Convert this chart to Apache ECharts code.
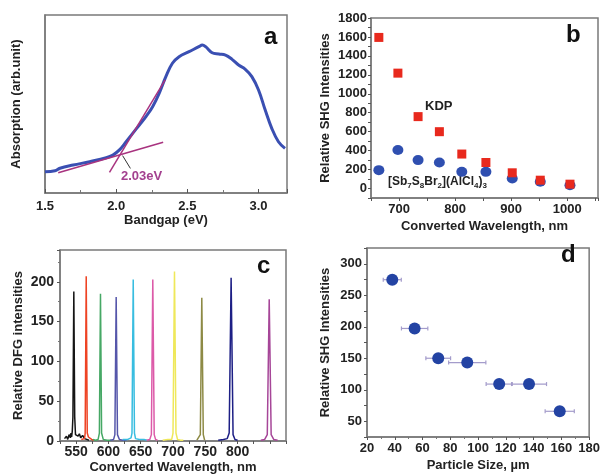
<!DOCTYPE html>
<html>
<head>
<meta charset="utf-8">
<script src="https://cdn.jsdelivr.net/npm/echarts@6/dist/echarts.min.js"></script>
<style>
html,body{margin:0;padding:0;background:#fff;}
#chart{width:603px;height:476px;}
</style>
</head>
<body>
<div id="chart"></div>
<script>
// ---------- Panel a: absorption spectrum ----------
const aX = [1.50,1.57,1.605,1.698,1.814,1.930,1.977,2.023,2.070,2.116,2.163,2.209,2.256,2.302,2.349,2.395,2.442,2.512,2.581,2.605,2.628,2.674,2.721,2.768,2.814,2.860,2.907,2.953,3.000,3.047,3.093,3.140,3.186];
const aY = [12.0,12.5,13.9,15.7,17.6,19.8,21.3,24.2,28.8,33.5,38.2,42.9,48.5,56.0,65.4,72.9,76.6,79.4,82.2,83.1,82.2,78.8,78.1,77.5,75.1,71.9,69.5,65.4,57.9,46.6,36.3,28.8,25.1];
const tan1X = [1.593, 2.330];
const tan1Y = [11.4, 28.5];
const tan2X = [1.953, 2.344];
const tan2Y = [11.6, 63.5];
const arrowX = [2.045, 2.100];
const arrowY = [21.0, 13.8];
const aTicks = ['1.5','2.0','2.5','3.0'];

// ---------- Panel b: SHG vs wavelength ----------
const bX = [664, 698, 734, 772, 812, 855, 902, 952, 1005];
const bKDP = [1595, 1218, 759, 600, 364, 275, 166, 88, 46];
const bSb = [194, 406, 300, 275, 176, 176, 106, 71, 35];

// ---------- Panel c: DFG peaks ----------
const cBlack = [[532,3],[535,6],[537,2],[539,8],[541,4],[542,10],[543,5],[544,12],[545,30],[546.4,188],[547.8,30],[549,8],[551,10],[553,6],[555,9],[557,4],[560,7],[563,3],[566,2],[570,1]];
const cRed = [[558,2],[561,4],[563,3],[564,10],[565.6,207],[567.2,10],[569,5],[571,3],[574,2],[578,1]];
const cGreen = [[576,2],[580,1],[584,2],[586,10],[587.7,185],[589.4,10],[592,2],[598,1],[604,1]];
const cBlue = [[603,1],[608,2],[610,8],[612,181],[614,8],[617,2],[622,1],[628,1]];
const cCyan = [[622,2],[630,2],[635,4],[636.5,10],[638.4,203],[640.3,10],[642,3],[648,2],[655,2],[660,1]];
const cMagenta = [[659,1],[664,2],[666.5,8],[668.7,203],[670.9,8],[673,2],[676,1]];
const cYellow = [[684,1],[692,2],[698,2],[700,10],[702.3,213],[704.6,10],[707,2],[712,1],[716,1]];
const cOlive = [[737,1],[740,2],[742.3,8],[744.6,180],[746.9,8],[749,1]];
const cNavy = [[770,1],[778,2],[784,3],[787,10],[790,205],[793,8],[796,2],[800,1]];
const cPurple = [[836,1],[842,2],[846,8],[849,178],[852,8],[856,2],[862,1]];
const cXTicks = [550, 600, 650, 700, 750, 800];
const cYTicks = [0, 50, 100, 150, 200];

// ---------- Panel d: SHG vs particle size ----------
const dX = [38.2, 54.3, 71.3, 92.2, 115.2, 136.7, 158.8];
const dY = [274.7, 197.3, 150.0, 143.1, 109.0, 109.0, 65.8];
const dXErr = [6.5, 9.5, 8.9, 13.4, 9.4, 12.6, 10.5];
const dYErr = [3, 4, 4, 4, 4, 6, 4];

const FONT = "'Liberation Sans', Arial, sans-serif";
const TXT = '#222';
const AXC = '#7a7a7a';

function axisCommon(extra) {
  return Object.assign({
    axisLine: {show: true, onZero: false, lineStyle: {color: AXC, width: 1.5}},
    axisTick: {show: true, inside: false, length: 3, lineStyle: {color: '#555', width: 1}},
    axisLabel: {color: TXT, fontFamily: FONT, fontWeight: 'bold', fontSize: 13},
    splitLine: {show: false},
    nameLocation: 'middle',
    nameTextStyle: {color: TXT, fontFamily: FONT, fontWeight: 'bold', fontSize: 13}
  }, extra);
}

const chart = echarts.init(document.getElementById('chart'), null, {renderer: 'canvas'});

const gridStyle = {show: true, borderColor: AXC, borderWidth: 1.5, backgroundColor: 'transparent', containLabel: false};

const option = {
  animation: false,
  backgroundColor: '#fff',
  grid: [
    Object.assign({left: 45, top: 15, width: 242, height: 178}, gridStyle),
    Object.assign({left: 371, top: 18, width: 227, height: 180}, gridStyle),
    Object.assign({left: 60, top: 250, width: 226, height: 191}, gridStyle),
    Object.assign({left: 367, top: 248, width: 225, height: 189}, gridStyle)
  ],
  xAxis: [
    axisCommon({gridIndex: 0, type: 'value', min: 1.5, max: 3.2, interval: 0.5,
      name: 'Bandgap (eV)', nameGap: 20,
      axisTick: {show: true, inside: true, length: 4, lineStyle: {color: '#555'}},
      minorTick: {show: true, splitNumber: 2, length: 3, lineStyle: {color: '#777'}},
      axisLabel: {color: TXT, fontFamily: FONT, fontWeight: 'bold', fontSize: 13, margin: 7,
        formatter: v => { const s = v.toFixed(1); return aTicks.indexOf(s) >= 0 ? s : ''; }}}),
    axisCommon({gridIndex: 1, type: 'value', min: 650, max: 1055, interval: 50,
      name: 'Converted Wavelength, nm', nameGap: 22,
      axisLabel: {color: TXT, fontFamily: FONT, fontWeight: 'bold', fontSize: 13, margin: 5,
        formatter: v => (v % 100 === 0 ? String(v) : '')}}),
    axisCommon({gridIndex: 2, type: 'value', min: 525, max: 875, interval: 25,
      name: 'Converted Wavelength, nm', nameGap: 20,
      axisLabel: {color: TXT, fontFamily: FONT, fontWeight: 'bold', fontSize: 14, margin: 4,
        formatter: v => (cXTicks.indexOf(v) >= 0 ? String(v) : '')}}),
    axisCommon({gridIndex: 3, type: 'value', min: 20, max: 180, interval: 20,
      name: 'Particle Size, \u00b5m', nameGap: 22,
      minorTick: {show: true, splitNumber: 2, length: 2, lineStyle: {color: '#777'}},
      axisLabel: {color: TXT, fontFamily: FONT, fontWeight: 'bold', fontSize: 13, margin: 5}})
  ],
  yAxis: [
    axisCommon({gridIndex: 0, type: 'value', min: 0, max: 100,
      name: 'Absorption (arb.unit)', nameGap: 22,
      axisTick: {show: false}, axisLabel: {show: false}}),
    axisCommon({gridIndex: 1, type: 'value', min: -100, max: 1800, interval: 100,
      name: 'Relative SHG Intensities', nameGap: 39,
      axisLabel: {color: TXT, fontFamily: FONT, fontWeight: 'bold', fontSize: 13, margin: 4,
        formatter: v => (v >= 0 && v % 200 === 0 ? String(v) : '')}}),
    axisCommon({gridIndex: 2, type: 'value', min: 0, max: 240, interval: 50,
      name: 'Relative DFG intensities', nameGap: 35,
      minorTick: {show: true, splitNumber: 2, length: 2, lineStyle: {color: '#777'}},
      axisLabel: {color: TXT, fontFamily: FONT, fontWeight: 'bold', fontSize: 14, margin: 6,
        formatter: v => (cYTicks.indexOf(v) >= 0 ? String(v) : '')}}),
    axisCommon({gridIndex: 3, type: 'value', min: 25, max: 325, interval: 25,
      name: 'Relative SHG Intensities', nameGap: 35,
      axisLabel: {color: TXT, fontFamily: FONT, fontWeight: 'bold', fontSize: 13, margin: 5,
        formatter: v => (v % 50 === 0 ? String(v) : '')}})
  ],
  series: [
    // panel a
    {type: 'line', xAxisIndex: 0, yAxisIndex: 0, data: aX.map((x, i) => [x, aY[i]]),
      smooth: 0.4, symbol: 'none', lineStyle: {color: '#3a4fb2', width: 3}},
    {type: 'line', xAxisIndex: 0, yAxisIndex: 0, data: tan1X.map((x, i) => [x, tan1Y[i]]),
      symbol: 'none', lineStyle: {color: '#a8337f', width: 1.5}},
    {type: 'line', xAxisIndex: 0, yAxisIndex: 0, data: tan2X.map((x, i) => [x, tan2Y[i]]),
      symbol: 'none', lineStyle: {color: '#a8337f', width: 1.5}},
    {type: 'line', xAxisIndex: 0, yAxisIndex: 0, data: arrowX.map((x, i) => [x, arrowY[i]]),
      symbol: 'none', lineStyle: {color: '#333', width: 1}},
    // panel b
    {type: 'scatter', xAxisIndex: 1, yAxisIndex: 1, data: bX.map((x, i) => [x, bSb[i]]),
      symbol: 'circle', symbolSize: [11, 10], itemStyle: {color: '#2f4fb0', opacity: 1}},
    {type: 'scatter', xAxisIndex: 1, yAxisIndex: 1, data: bX.map((x, i) => [x, bKDP[i]]),
      symbol: 'rect', symbolSize: 9, itemStyle: {color: '#e8291d', opacity: 1}},
    // panel c
    ...[[cBlack, '#151515'], [cRed, '#ee4324'], [cGreen, '#46a865'], [cBlue, '#5556aa'],
        [cCyan, '#38bde0'], [cMagenta, '#dc5aa8'], [cYellow, '#efe85a'], [cOlive, '#8d8a45'],
        [cNavy, '#1d1f85'], [cPurple, '#a64698']].map(([d, c]) => ({
      type: 'line', xAxisIndex: 2, yAxisIndex: 2, data: d, symbol: 'none',
      lineStyle: {color: c, width: 1.5}})),
    // panel d
    {type: 'custom', xAxisIndex: 3, yAxisIndex: 3,
      data: dX.map((x, i) => [x, dY[i], dXErr[i], dYErr[i]]),
      renderItem: function (params, api) {
        const x = api.value(0), y = api.value(1), ex = api.value(2), ey = api.value(3);
        const p1 = api.coord([x - ex, y]), p2 = api.coord([x + ex, y]);
        const q1 = api.coord([x, y - ey]), q2 = api.coord([x, y + ey]);
        const st = {stroke: '#a49ccb', lineWidth: 1.2};
        return {type: 'group', children: [
          {type: 'line', shape: {x1: p1[0], y1: p1[1], x2: p2[0], y2: p2[1]}, style: st},
          {type: 'line', shape: {x1: p1[0], y1: p1[1] - 2, x2: p1[0], y2: p1[1] + 2}, style: st},
          {type: 'line', shape: {x1: p2[0], y1: p2[1] - 2, x2: p2[0], y2: p2[1] + 2}, style: st},
          {type: 'line', shape: {x1: q1[0], y1: q1[1], x2: q2[0], y2: q2[1]}, style: st}
        ]};
      }},
    {type: 'scatter', xAxisIndex: 3, yAxisIndex: 3, data: dX.map((x, i) => [x, dY[i]]),
      symbol: 'circle', symbolSize: 12, itemStyle: {color: '#2343a3', opacity: 1}}
  ],
  graphic: [
    {type: 'text', left: 264, top: 25, style: {text: 'a', font: "bold 24px " + FONT, fill: '#111'}},
    {type: 'text', left: 566, top: 23, style: {text: 'b', font: "bold 24px " + FONT, fill: '#111'}},
    {type: 'text', left: 257, top: 254, style: {text: 'c', font: "bold 24px " + FONT, fill: '#111'}},
    {type: 'text', left: 561, top: 243, style: {text: 'd', font: "bold 24px " + FONT, fill: '#111'}},
    {type: 'text', left: 121, top: 170, style: {text: '2.03eV', font: "bold 13px " + FONT, fill: '#a3408f'}},
    {type: 'text', left: 425, top: 100, style: {text: 'KDP', font: "bold 13px " + FONT, fill: '#222'}},
    {type: 'text', left: 388, top: 176, style: {
      text: '[Sb{s|7}S{s|8}Br{s|2}](AlCl{s|4}){s|3}',
      font: "bold 12px " + FONT, fill: '#222',
      rich: {s: {fontSize: 8, fontWeight: 'bold', fontFamily: FONT, fill: '#222', padding: [7, 0, 0, 0]}}
    }}
  ]
};
chart.setOption(option);
</script>
</body>
</html>
